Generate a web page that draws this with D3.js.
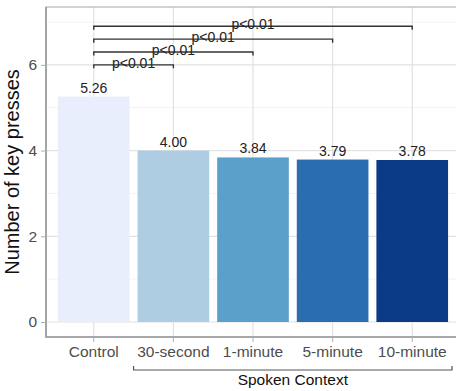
<!DOCTYPE html>
<html>
<head>
<meta charset="utf-8">
<script src="https://cdn.jsdelivr.net/npm/d3@7"></script>
<style>
  html, body { margin: 0; padding: 0; background: #fff; }
  svg { display: block; font-family: "Liberation Sans", Arial, sans-serif; }
</style>
</head>
<body>
<div id="container"></div>
<script>
(function(){

    // ---- data
    const categories = ["Control", "30-second", "1-minute", "5-minute", "10-minute"];
    const values     = [5.26, 4.00, 3.84, 3.79, 3.78];
    const barColors  = ["#e8eefb", "#aecde2", "#5b9fcb", "#2a6db0", "#0b3b86"];
    const yTicks     = [0, 2, 4, 6];
    const yMinor     = [1, 3, 5, 7];
    // comparisons: from, to, height, label
    const compFrom   = ["Control", "Control", "Control", "Control"];
    const compTo     = ["30-second", "1-minute", "5-minute", "10-minute"];
    const compY      = [6.0, 6.3, 6.6, 6.9];
    const compLabel  = ["p<0.01", "p<0.01", "p<0.01", "p<0.01"];
    const groupLabel = "Spoken Context";
    const groupCats  = ["30-second", "10-minute"];

    const width = 456, height = 391;
    const panel = {left: 46, top: 7, right: 460, bottom: 337};

    const x = d3.scaleBand()
        .domain(categories)
        .range([panel.left, panel.right])
        .paddingInner(0.1)
        .paddingOuter(0.15);
    const y = d3.scaleLinear([-0.35, 7.35], [panel.bottom, panel.top]);

    const svg = d3.select("#container").append("svg")
        .attr("width", width)
        .attr("height", height);

    // grid
    const grid = svg.append("g");
    grid.selectAll(".minor").data(yMinor).join("line")
        .attr("x1", panel.left).attr("x2", panel.right)
        .attr("y1", d => y(d)).attr("y2", d => y(d))
        .attr("stroke", "#efefef").attr("stroke-width", 0.8);
    grid.selectAll(".major").data(yTicks).join("line")
        .attr("x1", panel.left).attr("x2", panel.right)
        .attr("y1", d => y(d)).attr("y2", d => y(d))
        .attr("stroke", "#e2e2e2").attr("stroke-width", 1.2);
    grid.selectAll(".vx").data(categories).join("line")
        .attr("x1", d => x(d) + x.bandwidth() / 2).attr("x2", d => x(d) + x.bandwidth() / 2)
        .attr("y1", panel.top).attr("y2", panel.bottom)
        .attr("stroke", "#e2e2e2").attr("stroke-width", 1.2);

    // bars
    svg.append("g").selectAll("rect")
        .data(categories)
        .join("rect")
        .attr("x", d => x(d))
        .attr("width", x.bandwidth())
        .attr("y", (d, i) => y(values[i]))
        .attr("height", (d, i) => y(0) - y(values[i]))
        .attr("fill", (d, i) => barColors[i]);

    // value labels
    svg.append("g").selectAll("text")
        .data(categories)
        .join("text")
        .attr("x", d => x(d) + x.bandwidth() / 2)
        .attr("y", (d, i) => y(values[i]) - 4)
        .attr("text-anchor", "middle")
        .attr("font-size", 14)
        .attr("fill", "#222")
        .text((d, i) => values[i].toFixed(2));

    // panel border
    svg.append("rect")
        .attr("x", panel.left).attr("y", panel.top)
        .attr("width", panel.right - panel.left)
        .attr("height", panel.bottom - panel.top)
        .attr("fill", "none")
        .attr("stroke", "#b5b5b5").attr("stroke-width", 1.2);
    svg.append("path")
        .attr("d", `M${panel.left},${panel.top}V${panel.bottom}H${panel.right}`)
        .attr("fill", "none")
        .attr("stroke", "#9a9a9a").attr("stroke-width", 1.6);

    // y axis
    const yAxis = svg.append("g")
        .attr("transform", `translate(${panel.left},0)`)
        .call(d3.axisLeft(y).tickValues(yTicks).tickSize(5).tickPadding(4).tickFormat(d3.format("d")));
    yAxis.select(".domain").remove();
    yAxis.selectAll(".tick line").attr("stroke", "#b0b0b0");
    yAxis.selectAll(".tick text").attr("font-size", 15.5).attr("fill", "#4d4d4d")
        .attr("font-family", "Liberation Sans, Arial, sans-serif");

    // x axis
    const xAxis = svg.append("g")
        .attr("transform", `translate(0,${panel.bottom})`)
        .call(d3.axisBottom(x).tickSize(5).tickPadding(4));
    xAxis.select(".domain").remove();
    xAxis.selectAll(".tick line").attr("stroke", "#b0b0b0");
    xAxis.selectAll(".tick text").attr("font-size", 15.5).attr("fill", "#4d4d4d")
        .attr("font-family", "Liberation Sans, Arial, sans-serif");

    // y title
    svg.append("text")
        .attr("transform", `translate(19,172) rotate(-90)`)
        .attr("text-anchor", "middle")
        .attr("font-size", 20)
        .attr("fill", "#111")
        .text("Number of key presses");

    // significance brackets
    const brackets = svg.append("g");
    compFrom.forEach((f, i) => {
        const x1 = x(f) + x.bandwidth() / 2;
        const x2 = x(compTo[i]) + x.bandwidth() / 2;
        const yy = y(compY[i]);
        brackets.append("path")
            .attr("d", `M${x1},${yy + 3.5}V${yy}H${x2}V${yy + 3.5}`)
            .attr("fill", "none")
            .attr("stroke", "#333")
            .attr("stroke-width", 1.4);
        brackets.append("text")
            .attr("x", (x1 + x2) / 2)
            .attr("y", yy + 3)
            .attr("text-anchor", "middle")
            .attr("font-size", 14)
            .attr("fill", "#222")
            .text(compLabel[i]);
    });

    // group bracket below x axis
    const gx1 = x(groupCats[0]) - 4;
    const gx2 = x(groupCats[1]) + x.bandwidth() + 4;
    const gy = 370;
    svg.append("path")
        .attr("d", `M${gx1},${gy - 4}V${gy}H${gx2}V${gy - 4}`)
        .attr("fill", "none")
        .attr("stroke", "#555")
        .attr("stroke-width", 1.2);
    svg.append("text")
        .attr("x", (gx1 + gx2) / 2)
        .attr("y", 385)
        .attr("text-anchor", "middle")
        .attr("font-size", 15.5)
        .attr("fill", "#111")
        .text(groupLabel);

})();
</script>
</body>
</html>
